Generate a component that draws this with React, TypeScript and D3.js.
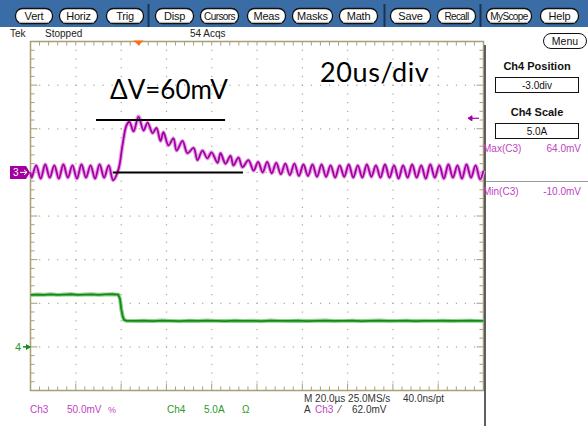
import React from "react";
import * as d3 from "d3";

// ---- Data ----
// Ch3 (50 mV/div), time in µs from left edge of graticule (20 µs/div)
const ch3Time = [
  0, 0.5, 2.5, 4.5, 6.5, 8.5, 10.5, 12.5, 14.5, 16.5, 18.5, 20.5, 22.5, 24.5, 26.5, 28.5, 30.5, 32.5, 34.5, 36.5,
  38.9, 40.6, 42.4, 43.7, 45.5, 47.7, 49.9, 51.7, 53.9, 55.6, 57.4, 58.7, 60.9, 63.1, 64.5, 67.1, 69.3, 72.0,
  73.7, 75.9, 78.1, 79.9, 82.6, 83.9, 86.1, 88.3, 89.6, 91.8, 93.6, 96.2, 98.5,
  100.5, 102.5, 104.5, 106.5, 108.5, 110.5, 112.5, 114.5, 116.5, 118.5, 120.5, 122.5, 124.5, 126.5, 128.5,
  130.5, 132.5, 134.5, 136.5, 138.5, 140.5, 142.5, 144.5, 146.5, 148.5, 150.5, 152.5, 154.5, 156.5, 158.5,
  160.5, 162.5, 164.5, 166.5, 168.5, 170.5, 172.5, 174.5, 176.5, 178.5, 180.5, 182.5, 184.5, 186.5, 188.5,
  190.5, 192.5, 194.5, 196.5, 198.5, 200,
];
const ch3Millivolts = [
  0, -6, 8, -7, 9, -6, 8, -7, 9, -6, 8, -7, 9, -6, 8, -7, 9, -6, 8, -9,
  4, 31, 54, 58, 47, 64, 48, 57, 45, 51, 36, 46, 31, 39, 25, 36, 22, 28,
  14, 25, 16, 23, 11, 22, 10, 19, 8, 17, 6, 14, 2,
  12, 0, 12, -1, 11, -2, 10, -3, 10, -4, 9, -4, 9, -5, 9,
  -5, 8, -6, 8, -5, 9, -6, 8, -6, 9, -5, 8, -6, 9, -6,
  8, -7, 8, -6, 9, -6, 8, -7, 9, -6, 8, -7, 9, -6, 8,
  -7, 9, -6, 8, -8, 2,
];
// Ch4 (5 A/div)
const ch4Time = [
  0, 3, 6, 9, 12, 15, 18, 21, 24, 27, 30, 33, 36, 38.8, 39.5, 40.1, 40.7, 41.3, 42.5,
  46, 50, 54, 58, 62, 66, 70, 74, 78, 82, 86, 90, 94, 98, 102, 106, 110, 114, 118, 122, 126, 130,
  134, 138, 142, 146, 150, 154, 158, 162, 166, 170, 174, 178, 182, 186, 190, 194, 198, 200,
];
const ch4Amps = [
  5.95, 6.0, 5.97, 6.02, 5.96, 6.0, 6.03, 5.96, 5.99, 6.02, 5.97, 6.01, 6.03, 5.98, 5.5, 4.3, 3.5, 3.1, 2.98,
  2.97, 3.0, 2.96, 3.01, 2.98, 2.95, 3.0, 2.97, 3.02, 2.98, 2.96, 3.0, 2.97, 2.99, 2.95, 3.01, 2.98, 2.97, 3.0, 2.96,
  2.99, 3.01, 2.97, 2.98, 3.0, 2.96, 2.99, 3.01, 2.97, 2.98, 3.0, 2.96, 2.99, 2.98, 3.0, 2.97, 2.99, 3.0, 2.98, 2.98,
];

const toolbarLabels = ["Vert", "Horiz", "Trig", "Disp", "Cursors", "Meas", "Masks", "Math", "Save", "Recall", "MyScope", "Help"];
const topStatus = ["Tek", "Stopped", "54 Acqs"];
const panelTitles = ["Ch4 Position", "Ch4 Scale"];
const panelValues = ["-3.0div", "5.0A"];
const measureLabels = ["Max(C3)", "Min(C3)"];
const measureValues = ["64.0mV", "-10.0mV"];
const deltaLabel = "ΔV=60mV";
const timebaseLabel = "20us/div";
// annotation lines: level (mV) and start/end time (µs)
const deltaLevels = [60, 0];
const deltaSpans = [[28.9, 85.9], [36.4, 93.8]];
const triggerTime = 47.7;
const triggerLevel = 62;

// layout (not data)
const buttonBoxes = [
  [15, 37], [59, 38], [106, 37], [155, 38], [200, 38], [247, 38],
  [292, 40], [339, 38], [390, 40], [437, 38], [486, 45], [540, 38],
];
const separatorsX = [148.5, 384.5, 480.5];

const UI = "'Liberation Sans', Arial, sans-serif";
const ANN = "Lato, 'Open Sans', sans-serif";

export default function App() {
  const L = 30.5, R = 483.5, T = 41.5, B = 390.5;
  const x = d3.scaleLinear().domain([0, 200]).range([L, R]);
  const y3 = d3.scaleLinear().domain([-250, 150]).range([B, T]);
  const y4 = d3.scaleLinear().domain([-5, 35]).range([B, T]);
  const divY = d3.scaleLinear().domain([0, 8]).range([T, B]);
  const divX = d3.scaleLinear().domain([0, 10]).range([L, R]);

  const xMinor = d3.range(0, 50.001, 1).map((k) => k / 5);
  const yMinor = d3.range(0, 40.001, 1).map((k) => k / 5);

  const line3 = d3
    .line<number>()
    .x((_, i) => x(ch3Time[i]))
    .y((d) => y3(d))
    .curve(d3.curveCatmullRom.alpha(0.5));
  const line4 = d3
    .line<number>()
    .x((_, i) => x(ch4Time[i]))
    .y((d) => y4(d));

  const tan = "#a79f78";
  const dot = "#a9a594";
  const mag = "#a400a4";
  const magText = "#bf3fbf";
  const green = "#148a14";
  const greenText = "#2a9a2a";

  const dots: JSX.Element[] = [];
  for (let k = 1; k < 8; k++) {
    xMinor.forEach((d, i) => {
      if (d > 0 && d < 10) dots.push(<rect key={`h${k}-${i}`} x={divX(d) - 0.5} y={divY(k) - 0.5} width={1.2} height={1.2} fill={dot} />);
    });
  }
  for (let k = 1; k < 10; k++) {
    yMinor.forEach((d, i) => {
      if (d > 0 && d < 8) dots.push(<rect key={`v${k}-${i}`} x={divX(k) - 0.5} y={divY(d) - 0.5} width={1.2} height={1.2} fill={dot} />);
    });
  }

  const ticks: JSX.Element[] = [];
  xMinor.forEach((d, i) => {
    if (d <= 0 || d >= 10) return;
    const major = Math.abs(d - Math.round(d)) < 1e-6;
    const len = major ? 7 : 4;
    ticks.push(<line key={`tt${i}`} x1={divX(d)} x2={divX(d)} y1={T} y2={T + 4} stroke={tan} />);
    ticks.push(<line key={`tb${i}`} x1={divX(d)} x2={divX(d)} y1={B} y2={B - len} stroke={tan} />);
  });
  yMinor.forEach((d, i) => {
    if (d <= 0 || d >= 8) return;
    const major = Math.abs(d - Math.round(d)) < 1e-6;
    const len = major ? 7 : 4;
    ticks.push(<line key={`tl${i}`} x1={L} x2={L + len} y1={divY(d)} y2={divY(d)} stroke={tan} />);
    ticks.push(<line key={`tr${i}`} x1={R} x2={R - len} y1={divY(d)} y2={divY(d)} stroke={tan} />);
  });

  const p3 = line3(ch3Millivolts) || "";
  const p4 = line4(ch4Amps) || "";

  return (
    <div style={{ position: "absolute", left: 0, top: 0 }}>
      <svg width={588} height={429} style={{ display: "block", fontFamily: UI }}>
        <rect width={588} height={429} fill="#ffffff" />
        {/* toolbar */}
        <rect x={0} y={0} width={588} height={27} fill="#3a6da6" />
        {separatorsX.map((sx, i) => (
          <line key={i} x1={sx} x2={sx} y1={4} y2={27} stroke="#1d3350" strokeWidth={2} />
        ))}
        {toolbarLabels.map((lab, i) => {
          const [bx, bw] = buttonBoxes[i];
          const long = lab.length > 5;
          return (
            <g key={lab}>
              <rect x={bx + 0.5} y={8.5} width={bw} height={15} rx={7} fill="#ffffff" stroke="#111" strokeWidth={1.3} />
              <path d={`M${bx + 4},${22.3} H${bx + bw - 3}`} stroke="#b8b8b8" strokeWidth={1} />
              <text
                x={bx + bw / 2 + 0.5}
                y={20}
                textAnchor="middle"
                fontSize={long ? 10 : 11}
                fill="#111"
                letterSpacing={long ? -0.6 : -0.2}
              >
                {lab}
              </text>
            </g>
          );
        })}
        {/* status line */}
        <text x={10} y={37} fontSize={10} fill="#222">{topStatus[0]}</text>
        <text x={45} y={37} fontSize={10} fill="#222">{topStatus[1]}</text>
        <text x={190} y={37} fontSize={10} fill="#222">{topStatus[2]}</text>

        {/* graticule */}
        {dots}
        {ticks}
        <rect x={L} y={T} width={R - L} height={B - T} fill="none" stroke={tan} strokeWidth={1.5} />
        <line x1={485} x2={485} y1={45} y2={426} stroke="#2a2a2a" strokeWidth={1.5} />

        {/* trigger position marker */}
        <path d={`M${x(triggerTime) - 5},${T - 1} L${x(triggerTime) + 5},${T - 1} L${x(triggerTime)},${T + 4} Z`} fill="#ff6a13" />
        {/* trigger level marker */}
        <g stroke={mag} fill={mag}>
          <line x1={471} x2={479} y1={y3(triggerLevel)} y2={y3(triggerLevel)} strokeWidth={1.2} />
          <path d={`M${468},${y3(triggerLevel)} L${472},${y3(triggerLevel) - 2.5} L${472},${y3(triggerLevel) + 2.5} Z`} />
        </g>

        {/* traces */}
        <path d={p4} fill="none" stroke="#8fcf8f" strokeWidth={4} strokeLinejoin="round" />
        <path d={p4} fill="none" stroke={green} strokeWidth={1.8} strokeLinejoin="round" />
        <path d={p3} fill="none" stroke="#e4a2e4" strokeWidth={4} strokeLinejoin="round" />
        <path d={p3} fill="none" stroke={mag} strokeWidth={1.8} strokeLinejoin="round" />

        {/* annotation lines */}
        {deltaLevels.map((lv, i) => (
          <line key={i} x1={x(deltaSpans[i][0])} x2={x(deltaSpans[i][1])} y1={y3(lv)} y2={y3(lv)} stroke="#000" strokeWidth={2} />
        ))}
        <text x={110} y={99} fontSize={26} fontFamily={ANN} fill="#000">{deltaLabel}</text>
        <text x={320} y={82} fontSize={27} fontFamily={ANN} fill="#000" letterSpacing={0.6}>{timebaseLabel}</text>

        {/* channel markers */}
        <path d={`M10,${y3(0) - 6.5} H26 L30,${y3(0)} L26,${y3(0) + 6.5} H10 Z`} fill="#a000a0" />
        <text x={13} y={y3(0) + 4} fontSize={10} fill="#fff">3</text>
        <path d={`M20,${y3(0)} H27 M24,${y3(0) - 2.5} L27,${y3(0)} L24,${y3(0) + 2.5}`} stroke="#fff" fill="none" />
        <text x={15} y={y4(0) + 4.5} fontSize={11} fill={greenText}>4</text>
        <path d={`M23,${y4(0)} H30`} stroke={green} strokeWidth={1.5} />
        <path d={`M26,${y4(0) - 3} L31,${y4(0)} L26,${y4(0) + 3} Z`} fill={green} />

        {/* right panel */}
        <rect x={543.5} y={33.5} width={43} height={15} rx={7.5} fill="#fff" stroke="#111" />
        <text x={565} y={45} textAnchor="middle" fontSize={10.5} fill="#111">Menu</text>
        <text x={537} y={70} textAnchor="middle" fontSize={11} fontWeight="bold" fill="#111">{panelTitles[0]}</text>
        <rect x={495.5} y={77.5} width={83} height={15} fill="#fff" stroke="#111" />
        <text x={537} y={89} textAnchor="middle" fontSize={10} fill="#111">{panelValues[0]}</text>
        <text x={537} y={116} textAnchor="middle" fontSize={11} fontWeight="bold" fill="#111">{panelTitles[1]}</text>
        <rect x={495.5} y={123.5} width={83} height={15} fill="#fff" stroke="#111" />
        <text x={537} y={135} textAnchor="middle" fontSize={10} fill="#111">{panelValues[1]}</text>
        <text x={483} y={152} fontSize={10} fill={magText}>{measureLabels[0]}</text>
        <text x={581} y={152} textAnchor="end" fontSize={10} fill={magText}>{measureValues[0]}</text>
        <line x1={486} x2={588} y1={181.5} y2={181.5} stroke="#9a9a9a" />
        <text x={483} y={195} fontSize={10} fill={magText}>{measureLabels[1]}</text>
        <text x={581} y={195} textAnchor="end" fontSize={10} fill={magText}>{measureValues[1]}</text>

        {/* bottom readouts */}
        <text x={30} y={413} fontSize={10} fill={magText}>Ch3</text>
        <text x={67} y={413} fontSize={10} fill={magText}>50.0mV</text>
        <text x={108} y={413} fontSize={9} fill={magText}>%</text>
        <text x={167} y={413} fontSize={10} fill={greenText}>Ch4</text>
        <text x={204} y={413} fontSize={10} fill={greenText}>5.0A</text>
        <text x={242} y={413} fontSize={10} fill={greenText}>Ω</text>
        <text x={304} y={402} fontSize={10} fill="#333">M 20.0µs 25.0MS/s</text>
        <text x={403} y={402} fontSize={10} fill="#333">40.0ns/pt</text>
        <text x={304} y={413} fontSize={10} fill="#333">A</text>
        <text x={315} y={413} fontSize={10} fill={magText}>Ch3</text>
        <text x={339} y={413} fontSize={10} fill="#333">⁄</text>
        <text x={352} y={413} fontSize={10} fill="#333">62.0mV</text>
      </svg>
    </div>
  );
}
